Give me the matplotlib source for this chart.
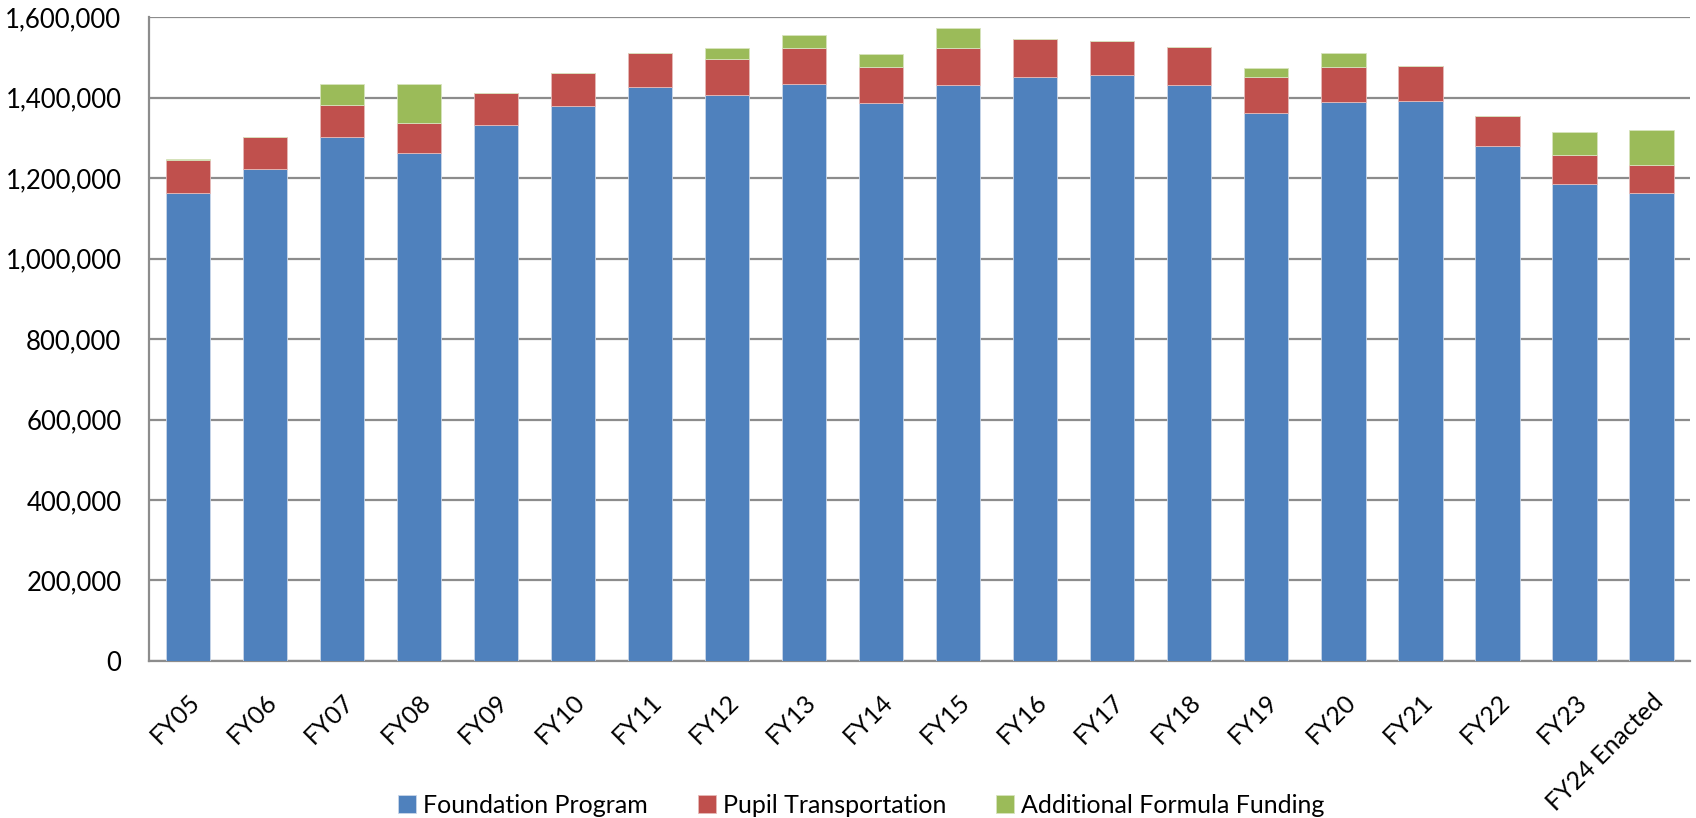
import numpy as np
import matplotlib
matplotlib.use("Agg")
import matplotlib.pyplot as plt
from matplotlib.ticker import FuncFormatter

# Data
years = ["FY05", "FY06", "FY07", "FY08", "FY09", "FY10", "FY11", "FY12", "FY13", "FY14",
         "FY15", "FY16", "FY17", "FY18", "FY19", "FY20", "FY21", "FY22", "FY23", "FY24 Enacted"]
foundation = [1162700, 1222400, 1303400, 1262900, 1331700, 1378900, 1426100, 1407700, 1434300, 1386300,
              1431100, 1451700, 1455900, 1431800, 1363000, 1388800, 1391300, 1279500, 1186600, 1164200]
transport = [82300, 81000, 78700, 73800, 79500, 82700, 84500, 89500, 90200, 91000,
             91900, 94400, 86000, 93700, 89400, 87700, 87000, 74500, 71300, 69600]
additional = [2000, 0, 51500, 97600, 0, 0, 0, 26600, 32300, 30800,
              51200, 0, 0, 0, 22400, 34800, 0, 1500, 57900, 87000]

BLUE = "#4F81BD"
RED = "#C0504D"
GREEN = "#9BBB59"
GRID = "#8C8C8C"

plt.rcParams['font.family'] = ['Lato', 'DejaVu Sans']

fig = plt.figure(figsize=(16.96, 8.18), dpi=100)
ax = fig.add_axes([0.088, 0.192, 0.9085, 0.787])

x = np.arange(len(years))
w = 0.575
found = np.array(foundation)
trans = np.array(transport)
addl = np.array(additional)

ax.bar(x, found, w, color=BLUE, edgecolor="#c9d6e8", linewidth=0.6, label="Foundation Program", zorder=3)
ax.bar(x, trans, w, bottom=found, color=RED, edgecolor="#e6b9b8", linewidth=0.6,
       label="Pupil Transportation", zorder=3)
ax.bar(x, addl, w, bottom=found + trans, color=GREEN, edgecolor="#d7e4bd", linewidth=0.6,
       label="Additional Formula Funding", zorder=3)

ax.set_ylim(0, 1600000)
ax.set_xlim(-0.5, len(years) - 0.5)
ax.set_yticks(np.arange(0, 1600001, 200000))
ax.yaxis.set_major_formatter(FuncFormatter(lambda v, p: f"{int(v):,}"))
ax.grid(axis="y", color=GRID, linewidth=1.6, zorder=0)
ax.set_axisbelow(True)

ax.set_xticks(x)
ax.set_xticklabels(years, rotation=45, ha="right", va="top", rotation_mode="anchor", fontsize=18)
ax.tick_params(axis="y", labelsize=18.5, length=0, pad=20)
ax.tick_params(axis="x", length=0, pad=21)

for s in ["top", "right"]:
    ax.spines[s].set_visible(False)
ax.spines["left"].set_color(GRID)
ax.spines["bottom"].set_color(GRID)
ax.spines["left"].set_linewidth(1.6)
ax.spines["bottom"].set_linewidth(1.6)

fig.legend(loc="lower center", bbox_to_anchor=(0.508, -0.026), ncol=3, frameon=False,
           fontsize=18, handlelength=0.7, handleheight=0.7, handletextpad=0.3, columnspacing=2.0)

fig.savefig("out.png", dpi=100)
